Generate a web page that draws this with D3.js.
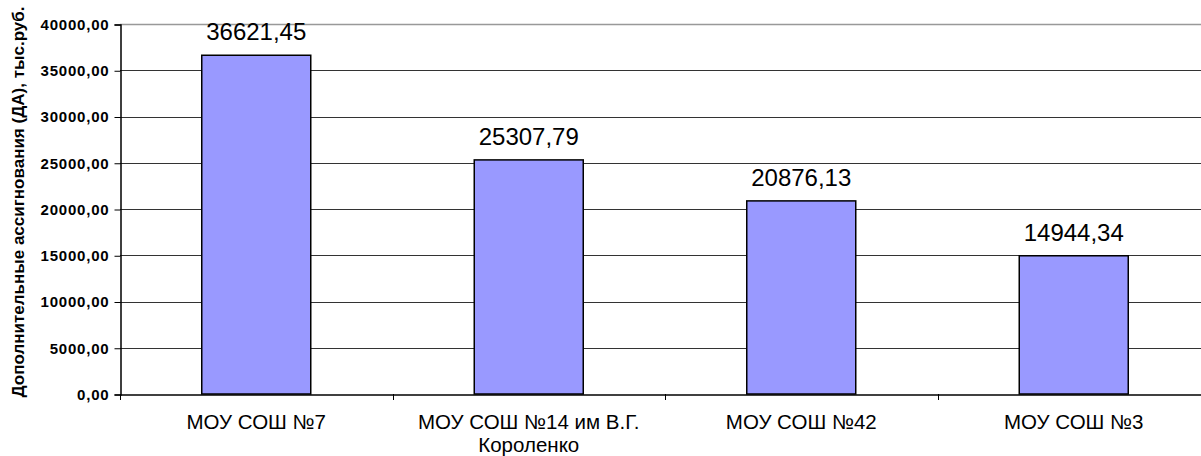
<!DOCTYPE html>
<html>
<head>
<meta charset="utf-8">
<script src="https://cdn.jsdelivr.net/npm/d3@7"></script>
<style>
  body { margin: 0; background: #fff; }
  svg { display: block; font-family: Arial, "Liberation Sans", sans-serif; }
</style>
</head>
<body>
<div class="chart"></div>
<script>
// categories and values
const schools = ['МОУ СОШ №7', 'МОУ СОШ №14 им В.Г. Короленко', 'МОУ СОШ №42', 'МОУ СОШ №3'];
const schoolLines = [['МОУ СОШ №7'], ['МОУ СОШ №14 им В.Г.', 'Короленко'], ['МОУ СОШ №42'], ['МОУ СОШ №3']];
const amounts = [36621.45, 25307.79, 20876.13, 14944.34];
const yTicks = [0, 5000, 10000, 15000, 20000, 25000, 30000, 35000, 40000];
const yTitle = 'Дополнительные ассигнования (ДА), тыс.руб.';

const width = 1201;
const height = 456;
const plotLeft = 120, plotRight = 1210, plotTop = 24, plotBottom = 394;

const fmt = v => d3.format('.2f')(v).replace('.', ',');

const svg = d3.select('.chart')
  .append('svg')
  .attr('width', width)
  .attr('height', height);

const xScale = d3.scaleBand()
  .domain(schools)
  .range([plotLeft, plotRight])
  .paddingInner(0.6)
  .paddingOuter(0.3);

const yScale = d3.scaleLinear()
  .domain([0, 40000])
  .range([plotBottom, plotTop]);

// horizontal gridlines
svg.append('g')
  .selectAll('line')
  .data(yTicks.slice(1))
  .join('line')
  .attr('x1', plotLeft)
  .attr('x2', plotRight)
  .attr('y1', d => Math.round(yScale(d)) + 0.5)
  .attr('y2', d => Math.round(yScale(d)) + 0.5)
  .attr('stroke', d => d === 40000 ? '#999' : '#333')
  .attr('stroke-width', d => d === 40000 ? 1.5 : 1.2);

// Y axis
const yAxis = d3.axisLeft(yScale)
  .tickValues(yTicks)
  .tickSize(6)
  .tickPadding(5)
  .tickFormat(fmt);

svg.append('g')
  .attr('transform', `translate(${plotLeft + 0.5}, 0.5)`)
  .call(yAxis)
  .call(g => g.select('.domain').attr('stroke', '#000').attr('stroke-width', 1.5))
  .call(g => g.selectAll('.tick line').attr('stroke', '#000'))
  .call(g => g.selectAll('.tick text')
    .attr('font-family', 'Arial, "Liberation Sans", sans-serif')
    .attr('font-size', 15)
    .attr('letter-spacing', 0.8)
    .attr('font-weight', 'bold')
    .attr('fill', '#000'));

// bars
svg.append('g')
  .selectAll('rect')
  .data(amounts)
  .join('rect')
  .attr('x', (d, i) => xScale(schools[i]))
  .attr('y', d => yScale(d))
  .attr('width', xScale.bandwidth())
  .attr('height', d => plotBottom - yScale(d))
  .attr('fill', '#9999FF')
  .attr('stroke', '#000')
  .attr('stroke-width', 1.5);

// X axis (category boundaries as ticks)
const step = xScale.step();
const xAxis = d3.axisBottom(xScale).tickSize(0).tickFormat('');
svg.append('g')
  .attr('transform', `translate(0, ${plotBottom + 0.5})`)
  .call(xAxis)
  .call(g => g.select('.domain').attr('stroke', '#000').attr('stroke-width', 1.5));

svg.append('g')
  .selectAll('line')
  .data(schools)
  .join('line')
  .attr('x1', (d, i) => Math.round(plotLeft + step * i) + 0.5)
  .attr('x2', (d, i) => Math.round(plotLeft + step * i) + 0.5)
  .attr('y1', plotBottom)
  .attr('y2', plotBottom + 6)
  .attr('stroke', '#000');

// category labels
svg.append('g')
  .selectAll('text')
  .data(schoolLines)
  .join('text')
  .attr('text-anchor', 'middle')
  .attr('font-size', 20.5)
  .attr('fill', '#000')
  .each(function (lines, i) {
    const cx = xScale(schools[i]) + xScale.bandwidth() / 2;
    d3.select(this).selectAll('tspan')
      .data(lines)
      .join('tspan')
      .attr('x', cx)
      .attr('y', (l, j) => 429 + j * 23)
      .text(l => l);
  });

// value labels
svg.append('g')
  .selectAll('text')
  .data(amounts)
  .join('text')
  .attr('x', (d, i) => xScale(schools[i]) + xScale.bandwidth() / 2)
  .attr('y', d => yScale(d) - 15)
  .attr('text-anchor', 'middle')
  .attr('font-size', 24)
  .attr('fill', '#000')
  .text(fmt);

// Y title
svg.append('text')
  .attr('transform', `translate(24, ${(plotTop + plotBottom) / 2 - 7}) rotate(-90)`)
  .attr('text-anchor', 'middle')
  .attr('font-size', 17)
  .attr('font-weight', 'bold')
  .attr('fill', '#000')
  .text(yTitle);
</script>
</body>
</html>
